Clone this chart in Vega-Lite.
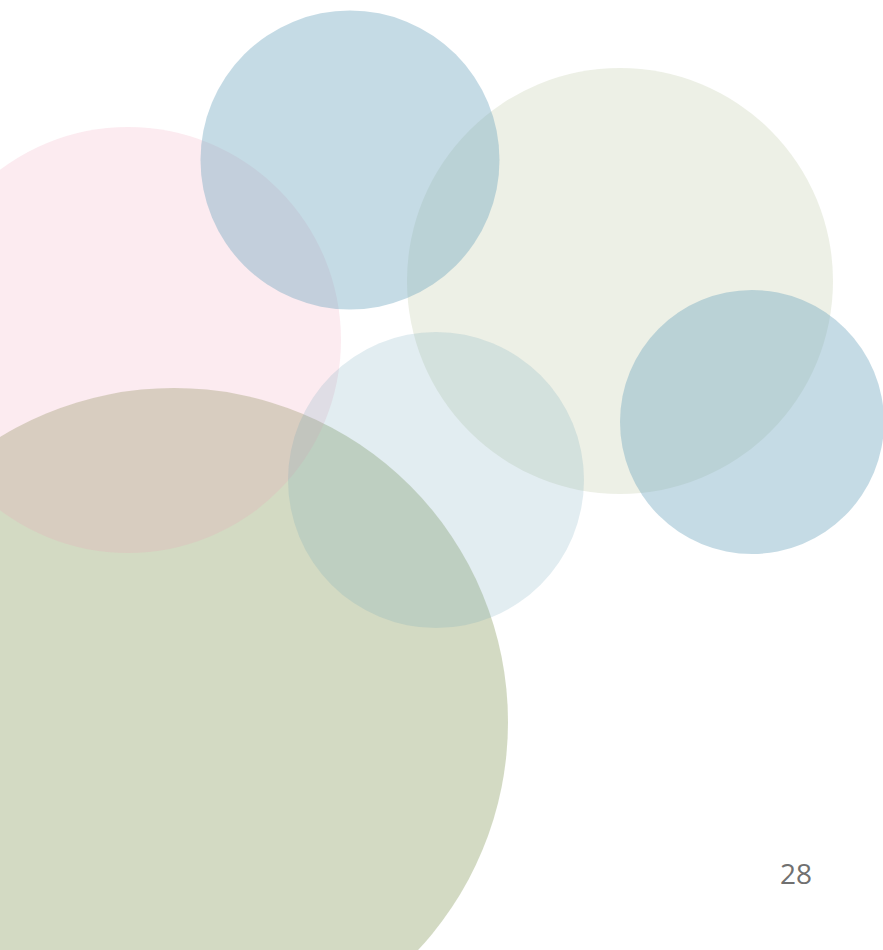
{
  "$schema": "https://vega.github.io/schema/vega-lite/v6.json",
  "width": 883,
  "height": 950,
  "padding": 0,
  "autosize": {"type": "fit", "contains": "padding"},
  "background": "white",
  "config": {"view": {"stroke": null}},
  "layer": [
    {
      "data": {
        "values": [
          {"name": "green", "cx": 174, "cy": 722, "diameter": 668, "tone": "olive-strong"},
          {"name": "pink", "cx": 128, "cy": 340, "diameter": 426, "tone": "rose"},
          {"name": "beige", "cx": 620, "cy": 281, "diameter": 426, "tone": "olive-faint"},
          {"name": "lightblue", "cx": 436, "cy": 480, "diameter": 296, "tone": "blue-faint"},
          {"name": "bluetop", "cx": 350, "cy": 160, "diameter": 299, "tone": "blue-medium"},
          {"name": "blueright", "cx": 752, "cy": 422, "diameter": 264, "tone": "blue-medium"}
        ]
      },
      "mark": {"type": "point", "shape": "circle", "filled": true, "clip": true, "strokeWidth": 0, "opacity": 1},
      "encoding": {
        "x": {"field": "cx", "type": "quantitative", "scale": {"domain": [0, 883], "nice": false, "zero": false}, "axis": null},
        "y": {"field": "cy", "type": "quantitative", "scale": {"domain": [950, 0], "nice": false, "zero": false}, "axis": null},
        "size": {"field": "diameter", "type": "quantitative", "scale": {"type": "pow", "exponent": 2, "domain": [0, 100], "range": [0, 10000]}, "legend": null},
        "color": {"field": "tone", "type": "nominal", "scale": {"domain": ["olive-strong", "olive-faint", "rose", "blue-medium", "blue-faint"], "range": ["rgba(167,181,135,0.5)", "rgba(165,180,130,0.2)", "rgba(240,155,180,0.2)", "rgba(110,165,190,0.4)", "rgba(110,165,185,0.2)"]}, "legend": null}
      }
    },
    {
      "data": {"values": [{"label": "28", "tx": 796, "ty": 884}]},
      "mark": {"type": "text", "font": "Open Sans", "fontSize": 28, "color": "#707070", "align": "center", "baseline": "alphabetic"},
      "encoding": {
        "x": {"field": "tx", "type": "quantitative", "scale": {"domain": [0, 883], "nice": false, "zero": false}, "axis": null},
        "y": {"field": "ty", "type": "quantitative", "scale": {"domain": [950, 0], "nice": false, "zero": false}, "axis": null},
        "text": {"field": "label"}
      }
    }
  ]
}
